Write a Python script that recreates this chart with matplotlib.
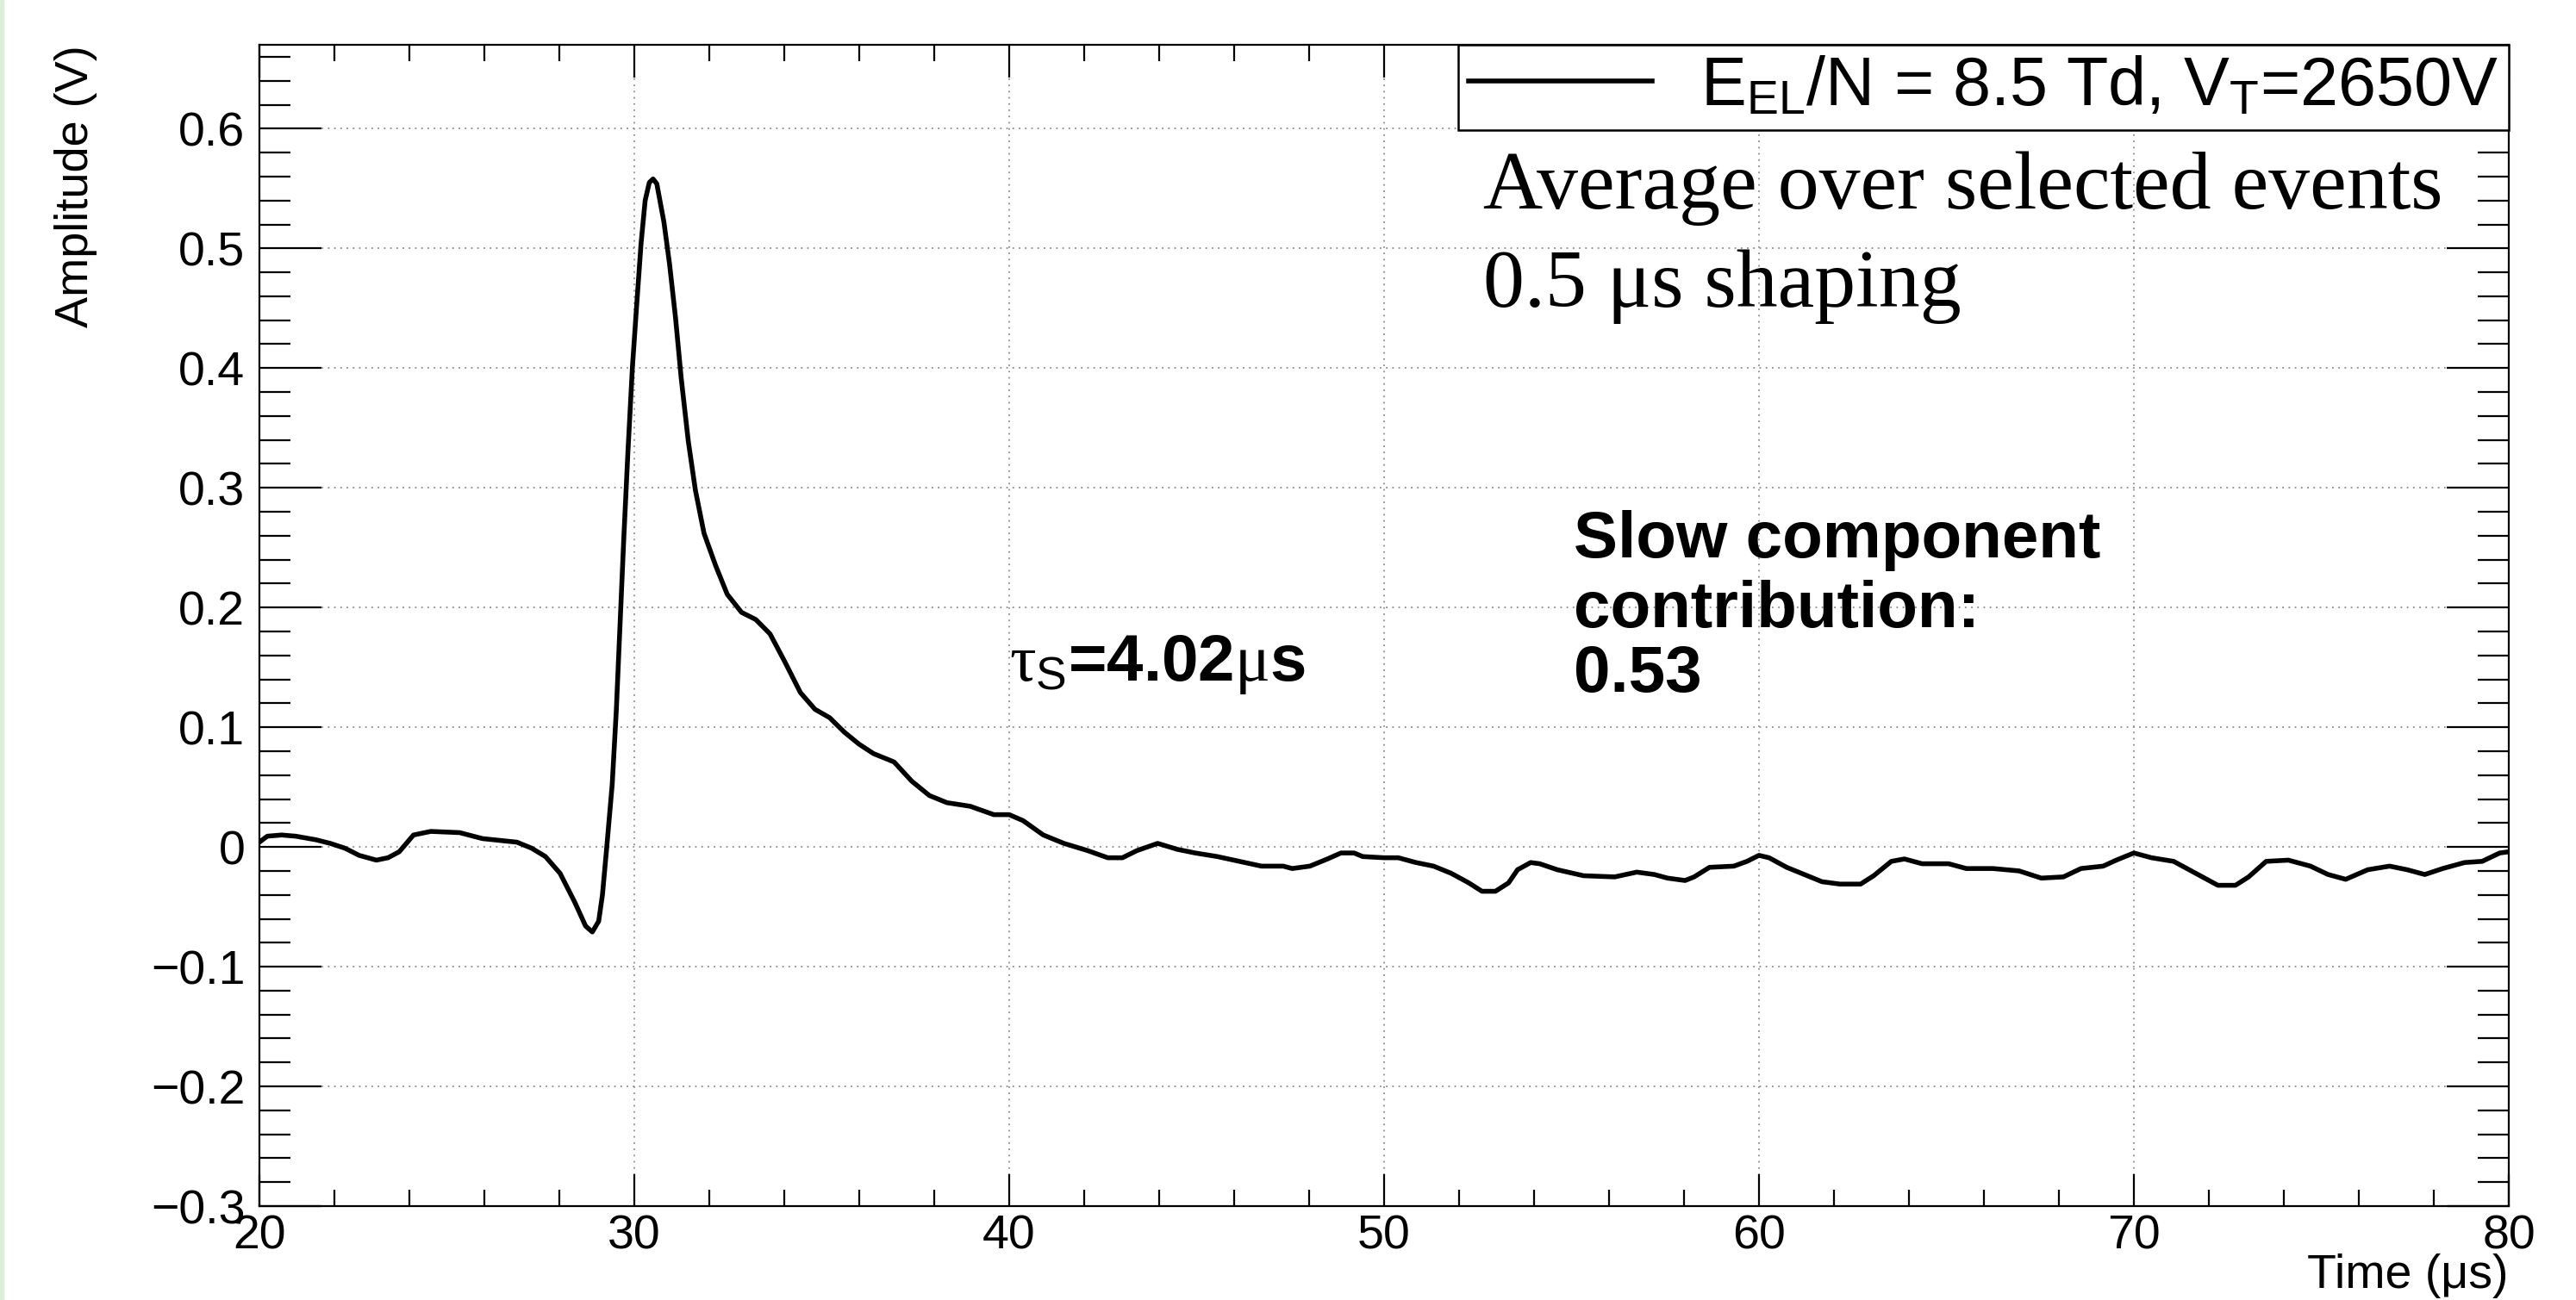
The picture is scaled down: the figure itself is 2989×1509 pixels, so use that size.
import matplotlib
matplotlib.use("Agg")
import matplotlib.pyplot as plt
from matplotlib.patches import Rectangle
from matplotlib.ticker import MultipleLocator

plt.rcParams['font.family'] = ['Liberation Sans', 'DejaVu Sans']
plt.rcParams['mathtext.fontset'] = 'custom'
plt.rcParams['mathtext.rm'] = 'Liberation Sans'
plt.rcParams['mathtext.it'] = 'Liberation Serif'
plt.rcParams['mathtext.bf'] = 'Liberation Sans:bold'

# averaged waveform (time in us, amplitude in V)
time_us = [20.00, 20.21, 20.59, 20.97, 21.51, 21.89, 22.28, 22.66, 23.12, 23.43,
           23.73, 24.11, 24.57, 25.34, 25.95, 26.87, 27.26, 27.63, 28.02, 28.41,
           28.70, 28.88, 29.05, 29.15, 29.26, 29.41, 29.52, 29.62, 29.72, 29.83,
           29.95, 30.06, 30.18, 30.29, 30.40, 30.50, 30.60, 30.79, 30.94, 31.10,
           31.25, 31.44, 31.63, 31.86, 32.17, 32.48, 32.86, 33.24, 33.62, 34.01,
           34.43, 34.82, 35.21, 35.60, 35.99, 36.38, 36.93, 37.40, 37.87, 38.34,
           38.96, 39.59, 40.00, 40.37, 40.91, 41.46, 42.09, 42.63, 43.02, 43.41,
           43.96, 44.49, 44.96, 45.55, 46.14, 46.73, 47.31, 47.55, 48.02, 48.49,
           48.85, 49.20, 49.43, 50.00, 50.38, 50.85, 51.32, 51.79, 52.26, 52.61,
           52.97, 53.32, 53.56, 53.91, 54.15, 54.62, 55.32, 56.15, 56.74, 57.21,
           57.56, 58.03, 58.27, 58.68, 59.33, 59.68, 60.00, 60.27, 60.74, 61.21,
           61.68, 62.16, 62.71, 63.06, 63.53, 63.88, 64.35, 65.06, 65.53, 66.24,
           66.94, 67.53, 68.12, 68.59, 69.18, 69.53, 70.00, 70.47, 71.06, 71.65,
           72.24, 72.71, 73.06, 73.53, 74.12, 74.71, 75.18, 75.65, 76.24, 76.82,
           77.29, 77.76, 78.24, 78.82, 79.29, 79.76, 80.00]
amplitude = [0.004, 0.009, 0.010, 0.009, 0.006, 0.003, -0.001, -0.007, -0.011, -0.009,
             -0.004, 0.010, 0.013, 0.012, 0.007, 0.004, -0.001, -0.008, -0.022, -0.046,
             -0.066, -0.071, -0.062, -0.040, -0.002, 0.052, 0.114, 0.186, 0.258, 0.330,
             0.401, 0.451, 0.504, 0.540, 0.555, 0.558, 0.554, 0.522, 0.487, 0.442,
             0.392, 0.339, 0.298, 0.262, 0.235, 0.211, 0.196, 0.190, 0.178, 0.155,
             0.129, 0.115, 0.108, 0.096, 0.086, 0.078, 0.071, 0.055, 0.043, 0.037,
             0.034, 0.027, 0.027, 0.022, 0.010, 0.003, -0.003, -0.009, -0.009, -0.003,
             0.003, -0.002, -0.005, -0.008, -0.012, -0.016, -0.016, -0.018, -0.016, -0.010,
             -0.005, -0.005, -0.008, -0.009, -0.009, -0.013, -0.016, -0.022, -0.030, -0.037,
             -0.037, -0.030, -0.019, -0.013, -0.014, -0.019, -0.024, -0.025, -0.021, -0.023,
             -0.026, -0.028, -0.025, -0.017, -0.016, -0.012, -0.007, -0.009, -0.017, -0.023,
             -0.029, -0.031, -0.031, -0.024, -0.012, -0.010, -0.014, -0.014, -0.018, -0.018,
             -0.020, -0.026, -0.025, -0.018, -0.016, -0.011, -0.005, -0.009, -0.012, -0.022,
             -0.032, -0.032, -0.025, -0.012, -0.011, -0.016, -0.023, -0.027, -0.019, -0.016,
             -0.019, -0.023, -0.018, -0.013, -0.012, -0.005, -0.004]

legend_label = r'E$_{\mathrm{EL}}$/N = 8.5 Td, V$_{\mathrm{T}}$=2650V'
info_lines = ['Average over selected events', '0.5 \u03bcs shaping']
tau_label = r'$\tau_{\mathrm{S}}$=4.02$\mu$s'
slow_lines = ['Slow component', 'contribution:', '0.53']

fig = plt.figure(figsize=(29.89, 15.09), dpi=100)
ax = fig.add_axes([0.1007, 0.0722, 0.8732, 0.8933])

ax.plot(time_us, amplitude, color='black', lw=4.0, label=legend_label)

ax.set_xlim(20, 80)
ax.set_ylim(-0.3, 0.67)
ax.xaxis.set_major_locator(MultipleLocator(10))
ax.xaxis.set_minor_locator(MultipleLocator(2))
ax.yaxis.set_major_locator(MultipleLocator(0.1))
ax.yaxis.set_minor_locator(MultipleLocator(0.02))
ax.yaxis.set_major_formatter(lambda v, p: '0' if abs(v) < 1e-9 else ('%.1f' % v).replace('-', '\u2212'))

ax.grid(True, which='major', color='#8c8c8c', linestyle=(0, (1, 3)), lw=1.3)
ax.tick_params(which='both', direction='in', top=True, right=True, width=1.6, labelsize=40)
ax.tick_params(axis='x', which='major', length=27, pad=7)
ax.tick_params(axis='x', which='minor', length=14)
ax.tick_params(axis='y', which='major', length=52, pad=12)
ax.tick_params(axis='y', which='minor', length=26)
for s in ax.spines.values():
    s.set_linewidth(1.6)

ax.set_xlabel('Time (\u03bcs)', fontsize=40, loc='right')
ax.xaxis.set_label_coords(1.0, -0.041)
ax.set_ylabel('Amplitude (V)', fontsize=39, loc='top')
ax.yaxis.set_label_coords(-0.072, 1.0)

leg = ax.legend(loc='upper right', bbox_to_anchor=(1.0, 1.0), borderaxespad=0,
                fontsize=57, frameon=True, fancybox=False, edgecolor='black',
                framealpha=1, borderpad=0.15, handlelength=2.7, handletextpad=0.7)
leg.get_frame().set_linewidth(1.8)

ax.text(52.64, 0.533, info_lines[0], family='Liberation Serif', fontsize=69)
ax.text(52.64, 0.451, info_lines[1], family='Liberation Serif', fontsize=69)

ax.text(40.0, 0.139, tau_label, fontsize=55, fontweight='bold')
for txt, yy in zip(slow_lines, [0.2417, 0.1835, 0.1295]):
    ax.text(55.05, yy, txt, fontsize=55, fontweight='bold')

fig.patches.append(Rectangle((0, 0), 4 / 2989, 1, transform=fig.transFigure,
                             color='#dcefd9', zorder=0))

fig.savefig('out.png', dpi=100)
